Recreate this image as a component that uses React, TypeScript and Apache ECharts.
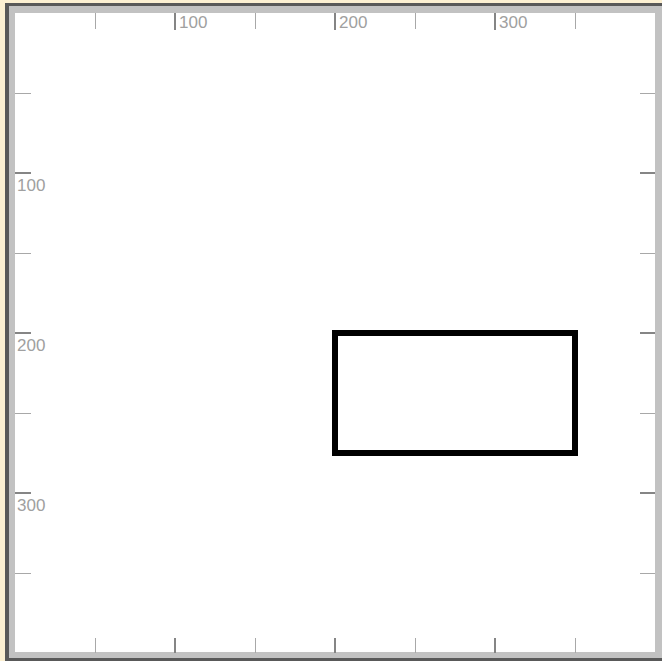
import React, { useEffect, useRef } from "react";
import * as echarts from "echarts";

const majorTicks = [100, 200, 300];
const minorTicks = [50, 150, 250, 350];
const axisRange = [0, 400];
const rectX = [200, 350];
const rectY = [200, 275];

const FONT = "'Liberation Sans', Arial, sans-serif";

function xAxisDef(position: string, values: number[], major: boolean, len: number, labels: boolean) {
  return {
    type: "value",
    position,
    min: axisRange[0],
    max: axisRange[1],
    axisLine: { show: false, onZero: false },
    splitLine: { show: false },
    axisTick: {
      show: true,
      inside: true,
      customValues: values,
      length: len,
      lineStyle: { width: major ? 2 : 1, color: major ? "#858585" : "#a8a8a8" },
    },
    axisLabel: labels
      ? {
          show: true,
          inside: true,
          customValues: values,
          margin: 1,
          align: "left",
          verticalAlign: "top",
          padding: [0, 0, 0, 4],
          fontSize: 17,
          fontFamily: FONT,
          color: "#a0a0a0",
        }
      : { show: false },
  };
}

function yAxisDef(position: string, values: number[], major: boolean, len: number, labels: boolean) {
  return {
    type: "value",
    position,
    inverse: true,
    min: axisRange[0],
    max: axisRange[1],
    axisLine: { show: false, onZero: false },
    splitLine: { show: false },
    axisTick: {
      show: true,
      inside: true,
      customValues: values,
      length: len,
      lineStyle: { width: major ? 2 : 1, color: major ? "#858585" : "#a8a8a8" },
    },
    axisLabel: labels
      ? {
          show: true,
          inside: true,
          customValues: values,
          margin: 2,
          align: "left",
          verticalAlign: "top",
          padding: [4, 0, 0, 0],
          fontSize: 17,
          fontFamily: FONT,
          color: "#a0a0a0",
        }
      : { show: false },
  };
}

export default function App() {
  const ref = useRef<HTMLDivElement>(null);
  useEffect(() => {
    if (!ref.current) return;
    const chart = echarts.init(ref.current, undefined, { renderer: "svg" });
    const rectData = [
      [rectX[0], rectY[0]],
      [rectX[1], rectY[0]],
      [rectX[1], rectY[1]],
      [rectX[0], rectY[1]],
      [rectX[0], rectY[0]],
    ];
    chart.setOption({
      animation: false,
      backgroundColor: "#fcf0d2",
      grid: { left: 15, top: 13, width: 640, height: 640, containLabel: false },
      graphic: [
        { type: "rect", z: -10, shape: { x: 5, y: 3, width: 700, height: 700 }, style: { fill: "#595959" }, silent: true },
        { type: "rect", z: -9, shape: { x: 9, y: 6, width: 700, height: 652 }, style: { fill: "#c2c2c2" }, silent: true },
        { type: "rect", z: -8, shape: { x: 15, y: 13, width: 640, height: 639 }, style: { fill: "#ffffff" }, silent: true },
      ],
      xAxis: [
        xAxisDef("top", majorTicks, true, 17, true),
        xAxisDef("top", minorTicks, false, 16, false),
        xAxisDef("bottom", majorTicks, true, 15, false),
        xAxisDef("bottom", minorTicks, false, 15, false),
      ],
      yAxis: [
        yAxisDef("left", majorTicks, true, 16, true),
        yAxisDef("left", minorTicks, false, 16, false),
        yAxisDef("right", majorTicks, true, 15, false),
        yAxisDef("right", minorTicks, false, 15, false),
      ],
      series: [
        {
          type: "line",
          xAxisIndex: 0,
          yAxisIndex: 0,
          data: rectData,
          symbol: "none",
          lineStyle: { color: "#000000", width: 6, join: "miter", cap: "square" },
        },
      ],
    });
    return () => chart.dispose();
  }, []);
  return <div ref={ref} style={{ position: "fixed", left: 0, top: 0, width: 662, height: 661 }} />;
}
